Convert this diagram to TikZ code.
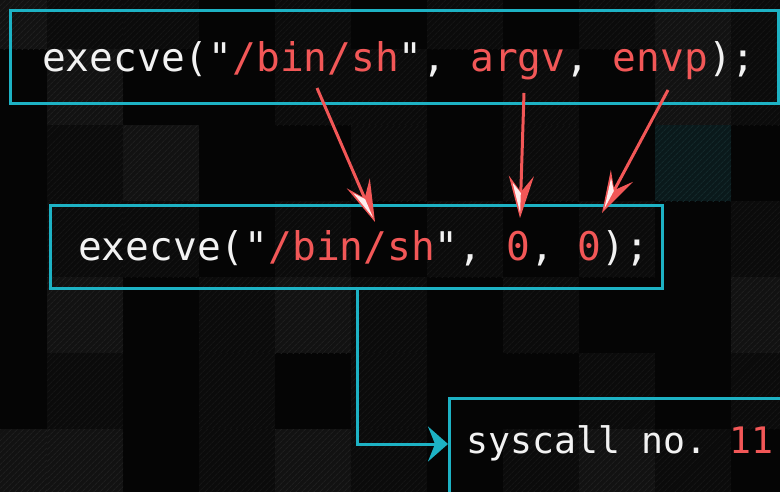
\documentclass[tikz,border=0pt]{standalone}
\usepackage{fontspec}
\setmonofont{DejaVu Sans Mono}
\usetikzlibrary{arrows.meta,calc,patterns.meta}

\definecolor{bgc}{HTML}{050505}
\definecolor{tileA}{HTML}{0B0B0B}
\definecolor{tileB}{HTML}{121212}
\definecolor{tileT}{HTML}{0A191B}
\definecolor{hatchA}{HTML}{141414}
\definecolor{hatchB}{HTML}{1E1E1E}
\definecolor{hatchT}{HTML}{13282A}
\definecolor{cyanline}{HTML}{1DB2C4}
\definecolor{codered}{HTML}{F25757}
\definecolor{codewhite}{HTML}{F2F2F2}

\begin{document}
\begin{tikzpicture}[x=1pt,y=-1pt,
  box/.style={draw=cyanline, line width=3pt, inner sep=0pt},
  code/.style={font=\ttfamily\fontsize{39.5}{44}\selectfont, text=codewhite, inner sep=0pt, anchor=base west},
  smallcode/.style={code, font=\ttfamily\fontsize{36.5}{40}\selectfont},
  redarrow/.style={draw=codered, line width=3pt, -{Stealth[length=42pt,width=25pt,inset=16pt,fill=codered]}},
  flowarrow/.style={draw=cyanline, line width=3pt, -{Stealth[length=20pt,width=35pt,inset=7pt,fill=cyanline]}},
  shine/.style={fill=white, opacity=0.9}]

\useasboundingbox (0,0) rectangle (780,491);
\clip (-6,-6) rectangle (786,497);

% dark backdrop with faint hatched tiles
\fill[bgc] (-6,-6) rectangle (786,497);
\foreach \c/\r/\f/\h in {
  0/0/tileB/hatchB, 1/0/tileA/hatchA, 2/0/tileA/hatchA, 4/0/tileA/hatchA, 6/0/tileA/hatchA, 8/0/tileA/hatchA, 9/0/tileB/hatchB, 10/0/tileA/hatchA,
  1/1/tileB/hatchB, 4/1/tileA/hatchA, 5/1/tileA/hatchA, 7/1/tileA/hatchA, 9/1/tileB/hatchB, 10/1/tileA/hatchA,
  1/2/tileA/hatchA, 2/2/tileB/hatchB, 5/2/tileA/hatchA, 7/2/tileA/hatchA, 9/2/tileT/hatchT,
  1/3/tileA/hatchA, 2/3/tileA/hatchA, 4/3/tileA/hatchA, 6/3/tileA/hatchA, 8/3/tileA/hatchA, 10/3/tileA/hatchA,
  1/4/tileB/hatchB, 3/4/tileA/hatchA, 4/4/tileB/hatchB, 5/4/tileA/hatchA, 7/4/tileA/hatchA, 10/4/tileB/hatchB,
  1/5/tileA/hatchA, 3/5/tileA/hatchA, 5/5/tileA/hatchA, 8/5/tileA/hatchA, 10/5/tileA/hatchA,
  0/6/tileB/hatchB, 1/6/tileB/hatchB, 3/6/tileA/hatchA, 4/6/tileB/hatchB, 5/6/tileA/hatchA, 7/6/tileA/hatchA, 8/6/tileB/hatchB, 9/6/tileA/hatchA}
{
  \fill[\f] (-29+76*\c, -27+76*\r) rectangle ++(76,76);
  \fill[pattern={Lines[angle=45,distance=4pt,line width=1pt]}, pattern color=\h]
    (-29+76*\c, -27+76*\r) rectangle ++(76,76);
}

% boxes
\node[box, minimum width=768pt, minimum height=93pt] (b1) at (394,56.5) {};
\node[box, minimum width=612pt, minimum height=83pt] (b2) at (356,246.5) {};
\node[box, minimum width=360pt, minimum height=130pt, anchor=north west] (b3) at (448,397) {};

% code lines
\node[code] (t1) at (42,71) {execve("\textcolor{codered}{/bin/sh}", \textcolor{codered}{argv}, \textcolor{codered}{envp});};
\node[code] (t2) at (78,260) {execve("\textcolor{codered}{/bin/sh}", \textcolor{codered}{0}, \textcolor{codered}{0});};
\node[smallcode] (t3) at (466,453) {syscall no. \textcolor{codered}{11}};

% argument substitution arrows
\coordinate (s1) at (317,88);  \coordinate (e1) at (375,222);
\coordinate (s2) at (524,93);  \coordinate (e2) at (520,218);
\coordinate (s3) at (668,90);  \coordinate (e3) at (602,213);
\foreach \i in {1,2,3}{
  \draw[redarrow] (s\i) -- (e\i);
  \coordinate (w\i) at ($(e\i)!35pt!(s\i)$);
  \coordinate (n\i) at ($(e\i)!25pt!(s\i)$);
  \coordinate (p\i) at ($(e\i)!5pt!(s\i)$);
  \fill[shine] (p\i) -- ($(w\i)!8.5pt!-90:(e\i)$) -- (n\i) -- cycle;
}

% flow into the syscall box
\coordinate (k) at (357,444);
\draw[flowarrow] (b2.south -| k) -- (k) -- (b3.west |- k);
\end{tikzpicture}
\end{document}
